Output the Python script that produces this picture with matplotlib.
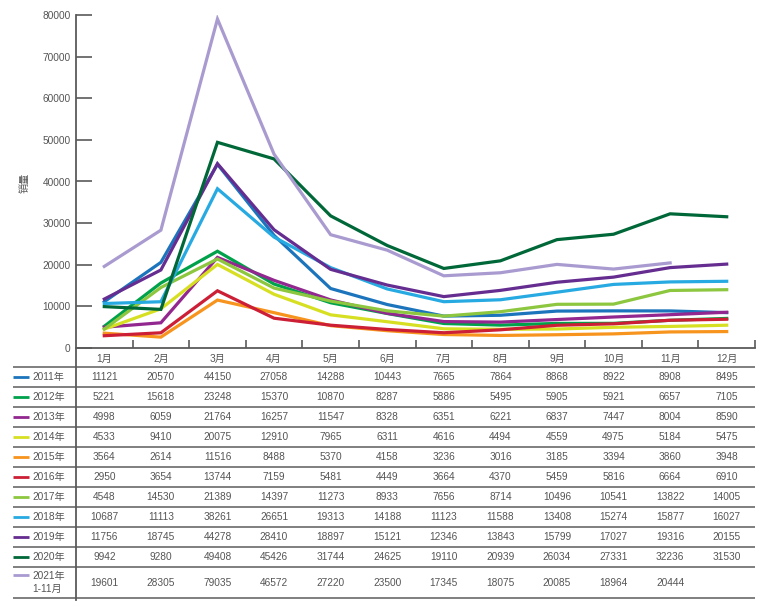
import matplotlib
matplotlib.use("Agg")
import matplotlib.pyplot as plt
from matplotlib import font_manager
import numpy as np

plt.rcParams['font.family'] = ['Liberation Sans', 'Noto Sans CJK SC', 'DejaVu Sans']

months = ['1月', '2月', '3月', '4月', '5月', '6月', '7月', '8月', '9月', '10月', '11月', '12月']
series_labels = ['2011年', '2012年', '2013年', '2014年', '2015年', '2016年',
                 '2017年', '2018年', '2019年', '2020年', '2021年\n1-11月']

s2011 = [11121, 20570, 44150, 27058, 14288, 10443, 7665, 7864, 8868, 8922, 8908, 8495]
s2012 = [5221, 15618, 23248, 15370, 10870, 8287, 5886, 5495, 5905, 5921, 6657, 7105]
s2013 = [4998, 6059, 21764, 16257, 11547, 8328, 6351, 6221, 6837, 7447, 8004, 8590]
s2014 = [4533, 9410, 20075, 12910, 7965, 6311, 4616, 4494, 4559, 4975, 5184, 5475]
s2015 = [3564, 2614, 11516, 8488, 5370, 4158, 3236, 3016, 3185, 3394, 3860, 3948]
s2016 = [2950, 3654, 13744, 7159, 5481, 4449, 3664, 4370, 5459, 5816, 6664, 6910]
s2017 = [4548, 14530, 21389, 14397, 11273, 8933, 7656, 8714, 10496, 10541, 13822, 14005]
s2018 = [10687, 11113, 38261, 26651, 19313, 14188, 11123, 11588, 13408, 15274, 15877, 16027]
s2019 = [11756, 18745, 44278, 28410, 18897, 15121, 12346, 13843, 15799, 17027, 19316, 20155]
s2020 = [9942, 9280, 49408, 45426, 31744, 24625, 19110, 20939, 26034, 27331, 32236, 31530]
s2021 = [19601, 28305, 79035, 46572, 27220, 23500, 17345, 18075, 20085, 18964, 20444]

series = [s2011, s2012, s2013, s2014, s2015, s2016, s2017, s2018, s2019, s2020, s2021]
colors = ['#1c75bc', '#00a14b', '#92278f', '#d7df23', '#f7941d', '#cc1f36',
          '#8dc63f', '#27aae1', '#662d91', '#006838', '#a99bd0']

W, H = 776, 611
fig = plt.figure(figsize=(W / 100, H / 100), dpi=100)
fig.patch.set_facecolor('white')

x_left, x_right = 76, 755
y_top, y_zero, y_tbl_bot = 15, 348, 600
tcol = '#555555'
gcol = '#5a5a5a'
fs = 7.3

ax = fig.add_axes([x_left / W, 1 - y_zero / H, (x_right - x_left) / W, (y_zero - y_top) / H])
ax.set_xlim(0, 12)
ax.set_ylim(0, 80000)
for i, (s, c) in enumerate(zip(series, colors)):
    xs = np.arange(len(s)) + 0.5
    ax.plot(xs, s, color=c, lw=2.3, solid_joinstyle='miter', zorder=2 + i * 0.01)

for sp in ['top', 'right', 'left']:
    ax.spines[sp].set_visible(False)
ax.spines['bottom'].set_color(gcol)
ax.spines['bottom'].set_linewidth(1.3)

ax.set_yticks(np.arange(0, 80001, 10000))
ax.set_yticklabels([str(v) for v in range(0, 80001, 10000)])
ax.tick_params(axis='y', direction='in', length=11.5, width=1.2, color=gcol,
               labelsize=fs, labelcolor=tcol, pad=4)
ax.set_xticks(np.arange(1, 13))
ax.set_xticklabels([])
ax.set_xticks(np.arange(12) + 0.5, minor=True)
ax.set_xticklabels(months, minor=True)
ax.tick_params(axis='x', which='major', direction='in', length=6, width=1.2, color=gcol)
ax.tick_params(axis='x', which='minor', length=0, labelsize=fs, labelcolor=tcol, pad=4)

fig.text(25 / W, 1 - 183 / H, '销量', rotation=90, ha='center', va='center',
         fontsize=fs, color=tcol)

# table
colw = (x_right - x_left) / 12
tab_left_px = 13
tx0 = -(x_left - tab_left_px) / colw
tax = fig.add_axes([tab_left_px / W, 1 - y_tbl_bot / H, (x_right - tab_left_px) / W,
                    (y_tbl_bot - y_zero) / H])
tax.set_xlim(tx0, 12)
tax.set_ylim(y_tbl_bot, y_zero)
tax.axis('off')

fig.add_artist(plt.Line2D([x_left / W, x_left / W], [1 - y_top / H, 1 - y_tbl_bot / H],
                          color=gcol, lw=1.3, transform=fig.transFigure))

row_lines = [367 + 20 * i for i in range(11)] + [598]
for yl in row_lines:
    tax.plot([tx0, 12], [yl, yl], color='#6a6a6a', lw=1.2, solid_capstyle='butt')

leg_len = 16 / colw
for i, (s, c, lab) in enumerate(zip(series, colors, series_labels)):
    if i < 10:
        yc = 377 + 20 * i
        ly = yc
    else:
        yc = 582.5
        ly = 575
    tax.plot([tx0, tx0 + leg_len], [ly, ly], color=c, lw=2, solid_capstyle='butt')
    tax.text(tx0 + 19 / colw, yc, lab, ha='left', va='center', fontsize=fs,
             color=tcol, linespacing=1.3)
    for j, v in enumerate(s):
        tax.text(j + 0.5, yc, str(v), ha='center', va='center', fontsize=fs, color=tcol)

fig.savefig('out.png', dpi=100, facecolor='white')
